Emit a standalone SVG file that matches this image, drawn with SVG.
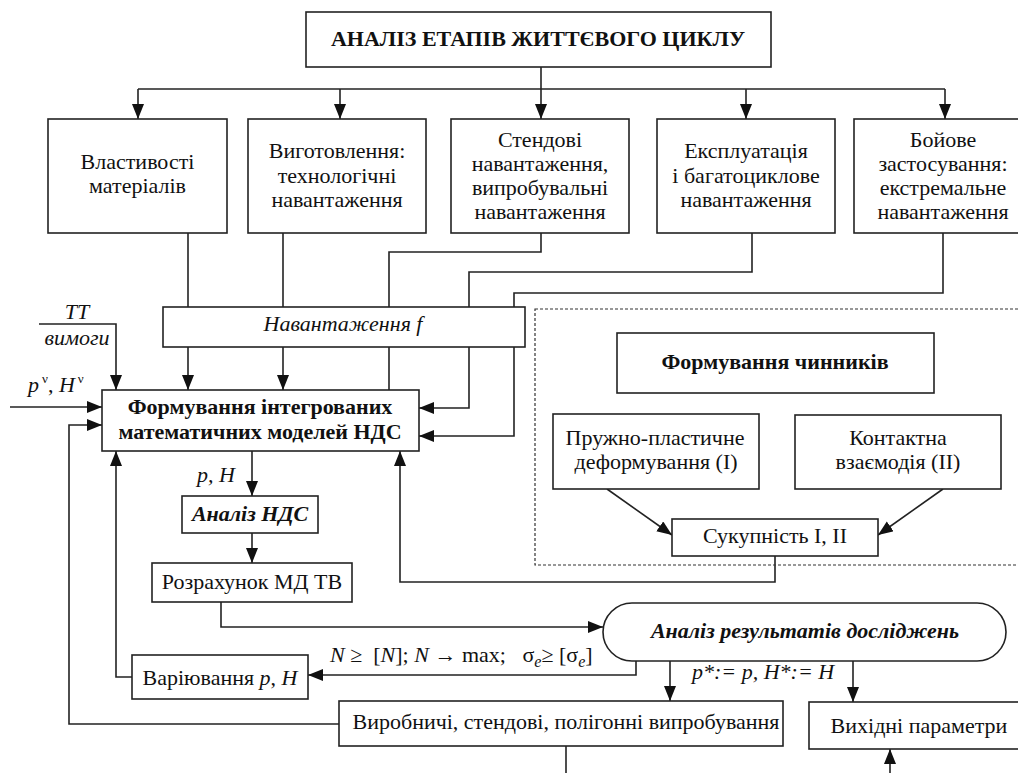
<svg xmlns="http://www.w3.org/2000/svg" width="1018" height="773" viewBox="0 0 1018 773">
<defs>
<style>
.t{font-family:'Liberation Serif','Times New Roman',serif;font-size:22px;fill:#111;}
.b{font-weight:bold;}
.i{font-style:italic;}
.c{text-anchor:middle;}
.box{fill:#fff;stroke:#222;stroke-width:1.6;}
.ln{fill:none;stroke:#222;stroke-width:1.6;}
.dash{fill:none;stroke:#333;stroke-width:1.2;stroke-dasharray:3,2;}
</style>
<marker id="ar" markerUnits="userSpaceOnUse" markerWidth="16" markerHeight="13" refX="15" refY="6" orient="auto">
<path d="M0,0 L15,6 L0,12 z" fill="#111"/>
</marker>
</defs>
<rect width="1018" height="773" fill="#fff"/>

<g id="connectors">
<path class="ln" d="M541,67 V119" marker-end="url(#ar)"/>
<path class="ln" d="M138,89 H945"/>
<path class="ln" d="M138,89 V119" marker-end="url(#ar)"/>
<path class="ln" d="M340,89 V119" marker-end="url(#ar)"/>
<path class="ln" d="M746,89 V119" marker-end="url(#ar)"/>
<path class="ln" d="M945,89 V119" marker-end="url(#ar)"/>
<path class="ln" d="M188,233 V390" marker-end="url(#ar)"/>
<path class="ln" d="M283,233 V390" marker-end="url(#ar)"/>
<path class="ln" d="M541,233 V252 H389 V390"/>
<path class="ln" d="M752,233 V272 H469 V408 H419" marker-end="url(#ar)"/>
<path class="ln" d="M943,233 V293 H514 V436 H419" marker-end="url(#ar)"/>
<path class="ln" d="M39,324 H116 V390" marker-end="url(#ar)"/>
<path class="ln" d="M10,407 H102" marker-end="url(#ar)"/>
<path class="ln" d="M339,724 H69 V425 H102" marker-end="url(#ar)"/>
<path class="ln" d="M132,677 H116 V451" marker-end="url(#ar)"/>
<path class="ln" d="M252,451 V496" marker-end="url(#ar)"/>
<path class="ln" d="M252,533 V563" marker-end="url(#ar)"/>
<path class="ln" d="M221,602 V627 H603" marker-end="url(#ar)"/>
<path class="ln" d="M775,556 V582 H400 V451" marker-end="url(#ar)"/>
<path class="ln" d="M607,489 L672,535" marker-end="url(#ar)"/>
<path class="ln" d="M943,489 L878,535" marker-end="url(#ar)"/>
<path class="ln" d="M636,661 V675 H308" marker-end="url(#ar)"/>
<path class="ln" d="M670,661 V701" marker-end="url(#ar)"/>
<path class="ln" d="M853,661 V702" marker-end="url(#ar)"/>
<path class="ln" d="M566,746 V773"/>
<path class="ln" d="M890,773 V749" marker-end="url(#ar)"/>
</g>

<g id="labels">
<text class="t i c" x="77" y="319">ТТ</text>
<text class="t i c" x="77" y="345">вимоги</text>
<text class="t" x="28" y="392"><tspan class="i">p</tspan><tspan font-size="13" dx="3" dy="-9">ν</tspan><tspan dy="9">, </tspan><tspan class="i">H</tspan><tspan font-size="13" dx="3" dy="-9">ν</tspan></text>
<text class="t i" x="197" y="482">p, H</text>
<text class="t" x="330" y="662" style="white-space:pre"><tspan class="i">N</tspan> ≥  [<tspan class="i">N</tspan>]; <tspan class="i">N</tspan> → max;   σ<tspan class="i" font-size="16" dy="5">e</tspan><tspan dy="-5">≥ [σ</tspan><tspan class="i" font-size="16" dy="5">e</tspan><tspan dy="-5">]</tspan></text>
<text class="t i" x="692" y="679">p*:= p, H*:= H</text>
</g>

<g id="n-top"><rect class="box" x="306" y="12" width="465" height="55"/><text class="t b c" x="538" y="46">АНАЛІЗ ЕТАПІВ ЖИТТЄВОГО ЦИКЛУ</text></g>

<g id="n-vlast"><rect class="box" x="48" y="119" width="179" height="114"/><text class="t c" x="137.5" y="169">Властивості</text><text class="t c" x="137.5" y="193">матеріалів</text></g>

<g id="n-vygot"><rect class="box" x="248" y="119" width="178" height="114"/><text class="t c" x="337" y="158">Виготовлення:</text><text class="t c" x="337" y="183">технологічні</text><text class="t c" x="337" y="207">навантаження</text></g>

<g id="n-stend"><rect class="box" x="451" y="119" width="178" height="114"/><text class="t c" x="540" y="147">Стендові</text><text class="t c" x="540" y="171">навантаження,</text><text class="t c" x="540" y="195">випробувальні</text><text class="t c" x="540" y="219">навантаження</text></g>

<g id="n-ekspl"><rect class="box" x="657" y="119" width="178" height="114"/><text class="t c" x="746" y="158">Експлуатація</text><text class="t c" x="746" y="183">і багатоциклове</text><text class="t c" x="746" y="207">навантаження</text></g>

<g id="n-boy"><rect class="box" x="854" y="119" width="182" height="114"/><text class="t c" x="943" y="147">Бойове</text><text class="t c" x="943" y="171">застосування:</text><text class="t c" x="943" y="195">екстремальне</text><text class="t c" x="943" y="219">навантаження</text></g>

<g id="n-navant"><rect class="box" x="163" y="307" width="362" height="40"/><text class="t i c" x="343" y="331">Навантаження f</text></g>

<g id="n-form"><rect class="box" x="102" y="390" width="317" height="61"/><text class="t b c" x="260" y="414">Формування інтегрованих</text><text class="t b c" x="260" y="439">математичних моделей НДС</text></g>

<g id="n-analiz-nds"><rect class="box" x="182" y="496" width="136" height="37"/><text class="t b i c" x="250" y="521">Аналіз НДС</text></g>

<g id="n-rozrah"><rect class="box" x="152" y="563" width="200" height="39"/><text class="t c" x="252" y="589">Розрахунок МД ТВ</text></g>

<g id="n-chynnyky-group"><rect class="dash" x="535" y="309" width="500" height="256"/></g>

<g id="n-chynnyky"><rect class="box" x="617" y="333" width="317" height="60"/><text class="t b c" x="775" y="369">Формування чинників</text></g>

<g id="n-pruzhno"><rect class="box" x="553" y="414" width="206" height="75"/><text class="t c" x="655" y="445">Пружно-пластичне</text><text class="t c" x="656" y="469">деформування (I)</text></g>

<g id="n-kontakt"><rect class="box" x="795" y="415" width="206" height="74"/><text class="t c" x="898" y="445">Контактна</text><text class="t c" x="898" y="469">взаємодія (II)</text></g>

<g id="n-sukup"><rect class="box" x="672" y="519" width="206" height="37"/><text class="t c" x="775" y="543">Сукупність I, II</text></g>

<g id="n-analiz-rez"><rect class="box" x="603" y="603" width="403" height="58" rx="29" ry="29"/><text class="t b i c" x="805" y="638">Аналіз результатів досліджень</text></g>

<g id="n-variuv"><rect class="box" x="132" y="655" width="176" height="44"/><text class="t c" x="220" y="685">Варіювання <tspan class="i">p</tspan>, <tspan class="i">H</tspan></text></g>

<g id="n-vyrob"><rect class="box" x="339" y="701" width="444" height="45"/><text class="t c" x="566" y="729">Виробничі, стендові, полігонні випробування</text></g>

<g id="n-vyhid"><rect class="box" x="809" y="702" width="220" height="47"/><text class="t c" x="919" y="733">Вихідні параметри</text></g>
</svg>
